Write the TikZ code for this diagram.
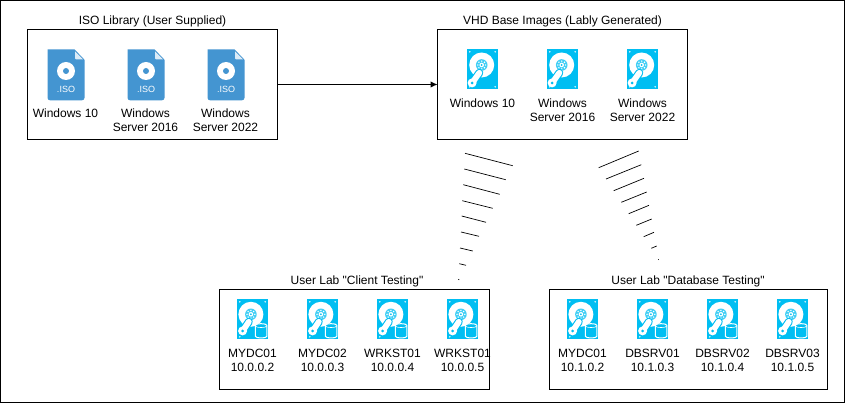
\documentclass[tikz,border=0pt]{standalone}
\usepackage{fontspec}
\usetikzlibrary{arrows.meta}
\setmainfont{Liberation Sans}[Ligatures=TeXOff]
\definecolor{isoblue}{HTML}{4495D1}
\definecolor{hddblue}{HTML}{00BEF2}
\definecolor{foldtint}{HTML}{DCEBF7}
\tikzset{
  box/.style={draw=black,line width=1pt,fill=white,inner sep=0pt,outer sep=0pt,anchor=north west},
  boxtitle/.style={font=\fontsize{12}{14}\selectfont,text=black,inner sep=0pt,anchor=center},
  iconlabel/.style={font=\fontsize{12}{14}\selectfont,text=black,inner sep=0pt,align=center,anchor=north},
  hatch/.style={draw=black,line width=0.7pt},
  isoicon/.pic={
    \fill[isoblue] (0,0) -- (27,0) -- (37,10.5) -- (37,48.5) arc[start angle=0,end angle=90,radius=2.5] -- (2.5,51) arc[start angle=90,end angle=180,radius=2.5] -- cycle;
    \fill[foldtint] (27.5,2) -- (35.5,10) -- (28.5,10) -- (27.5,9) -- cycle;
    \fill[white] (18.5,21.7) circle[radius=9];
    \fill[isoblue] (18.5,21.7) circle[radius=3];
    \node[text=white,inner sep=0pt,font=\fontsize{9}{9}\selectfont] at (18.5,40) {.ISO};
  },
  hddbase/.pic={
    \fill[hddblue] (0,0) rectangle (30.4,40);
    \foreach \sx/\sy in {2.5/2.5,27.9/2.5,2.5/37.5,27.9/37.5}
      \fill[white] (\sx,\sy) circle[radius=0.8];
  },
  hubdisc/.pic={
    \fill[white] (0,0) circle[radius=12.5];
    \fill[hddblue!75] (0,0) circle[radius=5.8];
    \foreach \ang in {0,45,...,315}
      \fill[white] (\ang:3.9) circle[radius=0.8];
    \fill[white] (0,0) circle[radius=2.3];
    \fill[hddblue] (0,0) circle[radius=1];
  },
  hddicon/.pic={
    \pic at (0,0) {hddbase};
    \pic at (14.4,15.7) {hubdisc};
    \draw[hddblue,line width=8pt,line cap=round] (12,23.5) -- (5,33.5);
    \draw[white,line width=5.8pt,line cap=round] (12,23.5) -- (5,33.5);
    \fill[white] (4.8,33.6) circle[radius=4.5];
    \fill[hddblue] (4.8,33.6) circle[radius=1.5];
  },
  hdddbicon/.pic={
    \pic at (0,0) {hddbase};
    \pic at (13.6,15) {hubdisc};
    \draw[hddblue,line width=8pt,line cap=round] (11.5,22.5) -- (5.5,31.5);
    \draw[white,line width=5.8pt,line cap=round] (11.5,22.5) -- (5.5,31.5);
    \fill[white] (5.3,31.6) circle[radius=4.5];
    \fill[hddblue] (5.3,31.6) circle[radius=1.5];
    \filldraw[draw=white,line width=1pt,fill=hddblue] (18,26) -- (18,37) arc[start angle=180,end angle=0,x radius=5.8,y radius=1.6] -- (29.6,26) arc[start angle=0,end angle=-180,x radius=5.8,y radius=1.6] -- cycle;
    \draw[white,line width=0.6pt] (18,26.6) arc[start angle=180,end angle=0,x radius=5.8,y radius=1.6];
  },
}
\begin{document}
\begin{tikzpicture}[x=1pt,y=-1pt]
\useasboundingbox (0,0) rectangle (845,403);
\fill[white] (0,0) rectangle (845,403);
\draw[black,line width=1.2pt] (0.5,0.5) rectangle (844.5,402.5);

\node[box,minimum width=250pt,minimum height=110pt] (isobox) at (27.5,29.5) {};
\node[box,minimum width=250pt,minimum height=110pt] (vhdbox) at (437.5,29.5) {};
\node[box,minimum width=270pt,minimum height=100pt] (clientbox) at (219.5,289.5) {};
\node[box,minimum width=278pt,minimum height=100pt] (dbbox) at (549.5,289.5) {};

\node[boxtitle] (isotitle) at (152.5,21) {ISO Library (User Supplied)};
\node[boxtitle] (vhdtitle) at (562.5,21) {VHD Base Images (Lably Generated)};
\node[boxtitle] (clienttitle) at (357,281) {User Lab "Client Testing"};
\node[boxtitle] (dbtitle) at (688,281) {User Lab "Database Testing"};

\draw[black,line width=1pt,-{Latex[length=7pt,width=6.5pt]}] (isobox.east) -- (vhdbox.west);

% ISO icons
\foreach \ix in {47.5,127.5,207.5} \pic at (\ix,49.3) {isoicon};
\node[iconlabel] (isoa) at (65.5,109) {Windows 10};
\node[iconlabel] (isob) at (145.5,109) {Windows\\Server 2016};
\node[iconlabel] (isoc) at (225.5,109) {Windows\\Server 2022};

% VHD icons
\foreach \ix in {467.3,547.3,627.3} \pic at (\ix,49.3) {hddicon};
\node[iconlabel] (vhda) at (482.5,98.5) {Windows 10};
\node[iconlabel] (vhdb) at (562.5,98.5) {Windows\\Server 2016};
\node[iconlabel] (vhdc) at (642.5,98.5) {Windows\\Server 2022};

% Client lab
\foreach \ix in {237.3,307.3,377.3,447.3} \pic at (\ix,299.3) {hdddbicon};
\node[iconlabel] (ca) at (252.5,348.5) {MYDC01\\10.0.0.2};
\node[iconlabel] (cb) at (322.5,348.5) {MYDC02\\10.0.0.3};
\node[iconlabel] (cc) at (392.5,348.5) {WRKST01\\10.0.0.4};
\node[iconlabel] (cd) at (462.5,348.5) {WRKST01\\10.0.0.5};

% Database lab
\foreach \ix in {567.3,637.3,707.3,777.3} \pic at (\ix,299.3) {hdddbicon};
\node[iconlabel] (da) at (582.5,348.5) {MYDC01\\10.1.0.2};
\node[iconlabel] (db) at (652.5,348.5) {DBSRV01\\10.1.0.3};
\node[iconlabel] (dc) at (722.5,348.5) {DBSRV02\\10.1.0.4};
\node[iconlabel] (dd) at (792.5,348.5) {DBSRV03\\10.1.0.5};

% hatched wedges
\foreach \ax/\ay/\bx/\by in {
  465/153.3/512.7/165.7, 464.3/169/505.7/179.7, 463.3/184.7/499.7/194.3,
  462.3/200.7/492.7/208.3, 461.7/216/486/222.3, 461/232/479/236.3,
  460/248/472.7/251, 459.3/263.7/466/265.3, 458.3/279.3/459.3/279.8}
  \draw[hatch] (\ax,\ay) -- (\bx,\by);
\foreach \ax/\ay/\bx/\by in {
  638.7/151/598.7/167.7, 641.3/164.7/606/179, 644/178.3/613.7/190.7,
  646.7/192/621.3/202.3, 649/205.3/628.7/213.7, 651.7/219/636.3/225.3,
  654/232.3/643.7/236.7, 656.7/246/651.3/248.3, 658.7/259.3/658.3/259.8}
  \draw[hatch] (\ax,\ay) -- (\bx,\by);
\end{tikzpicture}
\end{document}
